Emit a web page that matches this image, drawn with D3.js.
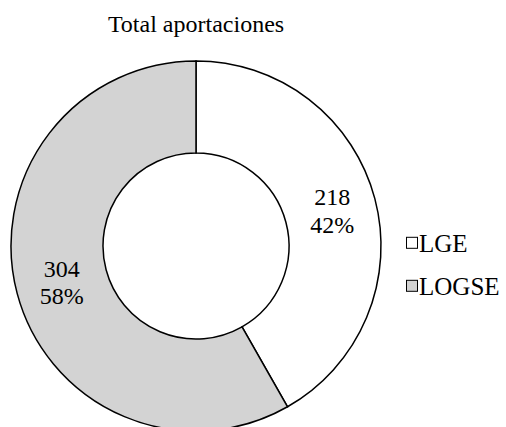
<!DOCTYPE html>
<html><head><meta charset="utf-8">
<script src="https://cdn.jsdelivr.net/npm/d3@7"></script>
<style>body{margin:0;background:#fff}svg{display:block}</style>
</head><body>
<script>
const title = "Total aportaciones";
const categories = ["LGE", "LOGSE"];
const values = [218, 304];
const percents = ["42%", "58%"];
const colors = ["#ffffff", "#d3d3d3"];

const W = 506, H = 427;
const svg = d3.select("body").append("svg").attr("width", W).attr("height", H);
const font = "'Liberation Serif', 'Times New Roman', Times, serif";

svg.append("text").attr("x", 196).attr("y", 32).attr("text-anchor", "middle")
  .style("font-family", font).style("font-size", "24px").text(title);

const cx = 196, cy = 246, R = 185, r = 93;
const pie = d3.pie().sort(null).value(d => d)(values);
const arc = d3.arc().innerRadius(r).outerRadius(R);
const g = svg.append("g").attr("transform", `translate(${cx},${cy})`);
g.selectAll("path").data(pie).join("path")
  .attr("d", arc).attr("fill", (d, i) => colors[i])
  .attr("stroke", "#000").attr("stroke-width", 1.5);

const labelArc = d3.arc().innerRadius(140).outerRadius(140);
pie.forEach((d, i) => {
  const c = labelArc.centroid(d);
  const t = g.append("text").attr("text-anchor", "middle")
    .style("font-family", font).style("font-size", "24px");
  t.append("tspan").attr("x", c[0] + 1).attr("y", c[1] - 5).text(values[i]);
  t.append("tspan").attr("x", c[0] + 1).attr("y", c[1] + 22.5).text(percents[i]);
});

const leg = svg.append("g");
categories.forEach((c, i) => {
  const y = 252.3 + i * 43;
  leg.append("rect").attr("x", 406.5).attr("y", y - 15).attr("width", 11).attr("height", 11)
    .attr("fill", colors[i]).attr("stroke", "#000").attr("stroke-width", 1);
  leg.append("text").attr("x", 419).attr("y", y)
    .style("font-family", font).style("font-size", "25px").text(c);
});
</script>
</body></html>
